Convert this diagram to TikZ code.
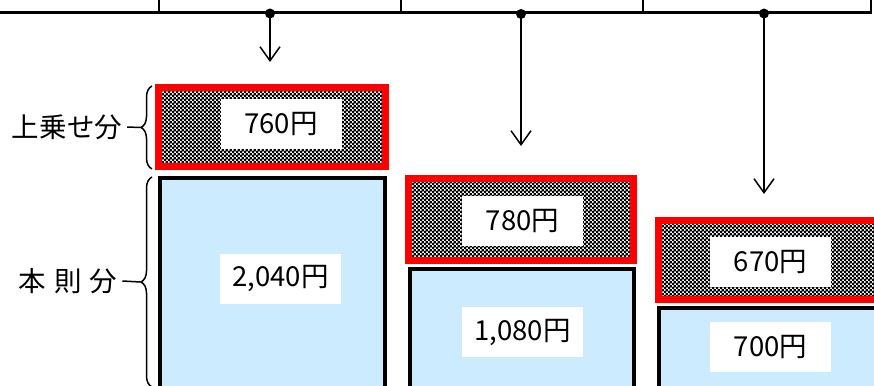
\documentclass[tikz,border=0pt]{standalone}
\usepackage{fontspec}
\setmainfont{Noto Sans CJK JP}
\usetikzlibrary{arrows.meta,decorations.pathreplacing,patterns}
\pgfdeclarepatternformonly{checker}{\pgfpointorigin}{\pgfqpoint{4pt}{4pt}}{\pgfqpoint{4pt}{4pt}}{%
  \pgfpathrectangle{\pgfpointorigin}{\pgfqpoint{2.7pt}{2.7pt}}%
  \pgfpathrectangle{\pgfqpoint{2pt}{2pt}}{\pgfqpoint{2.7pt}{2.7pt}}%
  \pgfusepath{fill}}
\definecolor{lightblue}{RGB}{204,235,255}
\begin{document}
\begin{tikzpicture}[x=1pt,y=-1pt,
  upperbox/.style={draw=red, line width=7pt, pattern=checker, pattern color=black, inner sep=0pt},
  lowerbox/.style={draw=black, line width=4pt, fill=lightblue, inner sep=0pt},
  lbl/.style={fill=white, minimum width=121pt, minimum height=50pt, inner sep=0pt, font=\fontsize{27.5}{32}\selectfont},
  side/.style={font=\fontsize{27.5}{32}\selectfont, inner sep=0pt},
  brc/.style={decorate, decoration={brace, amplitude=11pt}, line width=1.5pt},
  arr/.style={-{Straight Barb[length=14pt,width=20pt]}, line width=1.5pt},
  dotc/.style={fill=black}]
\useasboundingbox (0,0) rectangle (874,385);
\clip (0,0) rectangle (874,385);
% table remnant
\draw[line width=2.5pt] (0,12.5) -- (871,12.5) -- (871,-5);
\foreach \x in {159,401,643} \draw[line width=2.5pt] (\x,-5) -- (\x,12.5);
% boxes
\node[upperbox, minimum width=227pt, minimum height=79pt] (u1) at (272,127) {};
\node[lowerbox, minimum width=225pt, minimum height=222pt] (l1) at (272.5,289) {};
\node[upperbox, minimum width=225pt, minimum height=82pt] (u2) at (521,219.5) {};
\node[lowerbox, minimum width=224pt, minimum height=131pt] (l2) at (522,334.5) {};
\node[upperbox, minimum width=231.5pt, minimum height=79pt] (u3) at (774.25,260) {};
\node[lowerbox, minimum width=231pt, minimum height=92pt] (l3) at (774.5,354) {};
% labels
\node[lbl] (u1t) at (281,124) {760円};
\node[lbl] (l1t) at (280.5,278.5) {2,040円};
\node[lbl] (u2t) at (522.5,220.5) {780円};
\node[lbl] (l2t) at (522.5,332) {1,080円};
\node[lbl] (u3t) at (770.5,262) {670円};
\node[lbl] (l3t) at (770.5,347) {700円};
% dots and arrows
\coordinate (d1) at (270,13.5);
\coordinate (d2) at (521,14);
\coordinate (d3) at (764,13.5);
\coordinate (e1) at (270,62);
\coordinate (e2) at (521,146);
\coordinate (e3) at (764,194);
\draw[arr] (d1) -- (e1);
\draw[arr] (d2) -- (e2);
\draw[arr] (d3) -- (e3);
\foreach \d in {d1,d2,d3} \fill[dotc] (\d) circle (5pt);
% braces and side labels
\draw[brc] (152,169) -- (152,86);
\draw[brc] (152,387) -- (152,177);
\node[side] (s1) at (67,127) {上乗せ分};
\node[side] (s2) at (68,281) {本\hspace{8pt}則\hspace{8pt}分};
\coordinate (b1) at (140.5,127.5);
\coordinate (b2) at (140.5,282);
\draw[line width=1.5pt] (s1.east) ++(5pt,0) coordinate (c1) (c1) -- (b1);
\draw[line width=1.5pt] (s2.east) ++(5pt,0) coordinate (c2) (c2) -- (b2);
\end{tikzpicture}
\end{document}
